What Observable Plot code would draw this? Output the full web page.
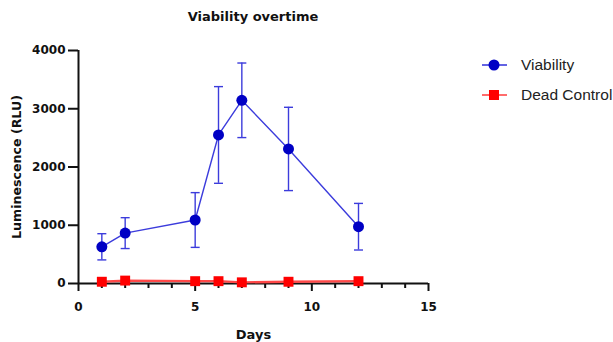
<!DOCTYPE html>
<html><head><meta charset="utf-8">
<script src="https://cdn.jsdelivr.net/npm/d3@7"></script>
<script src="https://cdn.jsdelivr.net/npm/@observablehq/plot@0.6"></script>
<style>
html,body{margin:0;padding:0;background:#fff;}
#wrap{position:relative;width:613px;height:342px;font-family:"Liberation Sans",Arial,sans-serif;}
#wrap svg.plot{position:absolute;left:0;top:0;}
#title{position:absolute;left:103px;width:300px;top:9px;line-height:15px;text-align:center;font-family:"DejaVu Sans",sans-serif;font-weight:bold;font-size:13px;color:#111;white-space:nowrap;}
.leg{position:absolute;left:480px;display:flex;align-items:center;font-size:15.5px;color:#222;white-space:nowrap;}
.leg span{margin-left:13px;}
</style></head><body>
<div id="wrap"><div id="title">Viability overtime</div></div>
<script>
const days = [1, 2, 5, 6, 7, 9, 12];
const viability = [630, 865, 1090, 2550, 3145, 2310, 975];
const viabilityErr = [225, 265, 470, 830, 640, 715, 400];
const deadControl = [30, 50, 40, 40, 20, 30, 40];
const xTicks = [0, 5, 10, 15];
const xMinorTicks = [1, 2, 3, 4, 6, 7, 8, 9, 11, 12, 13, 14];
const yTicks = [0, 1000, 2000, 3000, 4000];
const seriesNames = ["Viability", "Dead Control"];
const xLabel = "Days";
const yLabel = "Luminescence (RLU)";

const blueLine = "#3c3cdc", blueDot = "#0000c4", redLine = "#ff4848", redDot = "#ff0000";

const viaData = days.map((d, i) => ({day: d, v: viability[i], lo: viability[i] - viabilityErr[i], hi: viability[i] + viabilityErr[i]}));
const deadData = days.map((d, i) => ({day: d, v: deadControl[i]}));

const cap = {draw(ctx, size) { const w = Math.sqrt(size / Math.PI); ctx.moveTo(-w, 0); ctx.lineTo(w, 0); }};
const bold = {fontSize: 12, fontWeight: "bold", fill: "#111", fontFamily: "'DejaVu Sans', sans-serif"};

const chart = Plot.plot({
  width: 613, height: 342,
  marginLeft: 78, marginRight: 185, marginTop: 50, marginBottom: 59,
  x: {domain: [0, 15]},
  y: {domain: [0, 4000]},
  style: {fontFamily: "'DejaVu Sans', sans-serif", background: "transparent", overflow: "visible"},
  marks: [
    Plot.axisY({ticks: yTicks, tickSize: 10, tickPadding: 3, strokeWidth: 2, stroke: "#111", label: null, tickFormat: d => String(d), ...bold}),
    Plot.axisX({ticks: xTicks, tickSize: 8, tickPadding: 11, strokeWidth: 2, stroke: "#111", label: null, tickFormat: d => String(d), ...bold}),
    Plot.axisX({ticks: xMinorTicks, tickSize: 5, strokeWidth: 2, stroke: "#111", label: null, tickFormat: () => ""}),
    Plot.ruleX([0], {y1: 0, y2: 4000, stroke: "#111", strokeWidth: 2}),
    Plot.ruleY([0], {x1: 0, x2: 15, stroke: "#111", strokeWidth: 2}),
    Plot.text([yLabel], {frameAnchor: "left", rotate: -90, dx: -62, textAnchor: "middle", lineAnchor: "middle", ...bold, fontSize: 12.6}),
    Plot.text([xLabel], {frameAnchor: "bottom", dy: 51, textAnchor: "middle", lineAnchor: "middle", ...bold, fontSize: 13}),
    Plot.ruleX(viaData, {x: "day", y1: "lo", y2: "hi", stroke: blueLine, strokeWidth: 1.4}),
    Plot.dot(viaData, {x: "day", y: "hi", symbol: cap, r: 4.5, stroke: blueLine, strokeWidth: 1.4}),
    Plot.dot(viaData, {x: "day", y: "lo", symbol: cap, r: 4.5, stroke: blueLine, strokeWidth: 1.4}),
    Plot.line(viaData, {x: "day", y: "v", stroke: blueLine, strokeWidth: 1.4}),
    Plot.dot(viaData, {x: "day", y: "v", r: 5.5, fill: blueDot, stroke: "none"}),
    Plot.line(deadData, {x: "day", y: "v", stroke: redLine, strokeWidth: 2.4}),
    Plot.dot(deadData, {x: "day", y: "v", symbol: "square", r: 5.6, fill: redDot, stroke: "none"})
  ]
});
const wrap = document.getElementById("wrap");
wrap.appendChild(chart);

const legendItems = [
  {name: seriesNames[0], line: blueLine, fill: blueDot, shape: "circle", top: 56},
  {name: seriesNames[1], line: redLine, fill: redDot, shape: "square", top: 86}
];
for (const it of legendItems) {
  const div = document.createElement("div");
  div.className = "leg";
  div.style.top = it.top + "px";
  const shape = it.shape === "circle"
    ? `<circle cx="14" cy="9" r="5.5" fill="${it.fill}"/>`
    : `<rect x="9" y="4" width="10" height="10" fill="${it.fill}"/>`;
  div.innerHTML = `<svg width="28" height="18"><line x1="2" x2="27" y1="9" y2="9" stroke="${it.line}" stroke-width="1.6"/>${shape}</svg><span>${it.name}</span>`;
  wrap.appendChild(div);
}
</script>
</body></html>
